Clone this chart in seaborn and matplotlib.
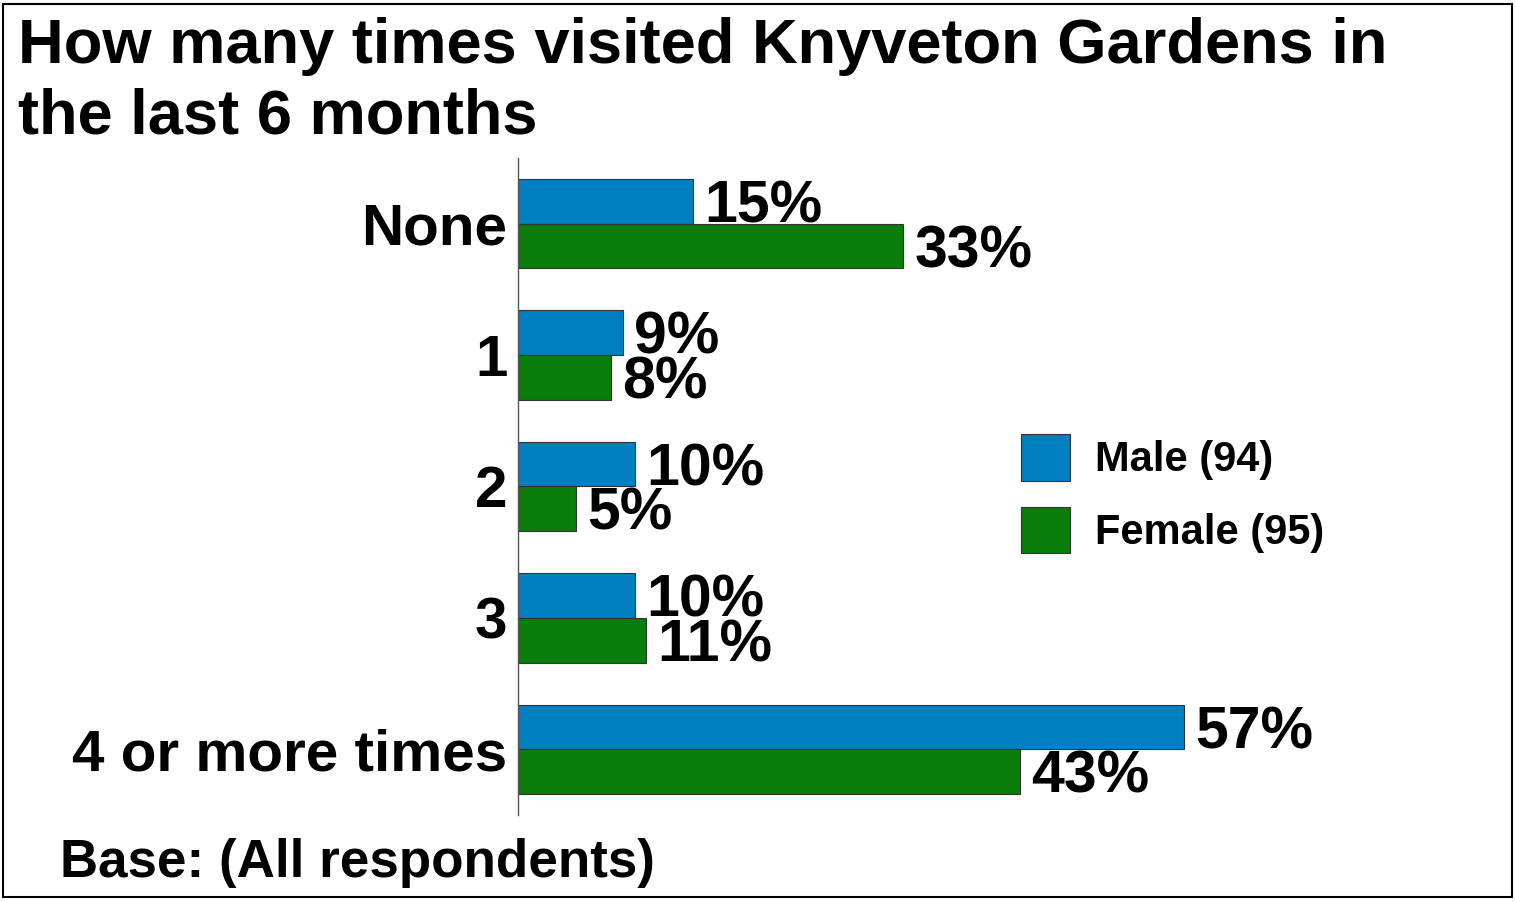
import seaborn as sns
import pandas as pd
import matplotlib.pyplot as plt
from matplotlib.patches import Rectangle

categories = ['None', '1', '2', '3', '4 or more times']
male = [15, 9, 10, 10, 57]
female = [33, 8, 5, 11, 43]
series_names = ['Male (94)', 'Female (95)']
colors = ['#0080C0', '#0A7D0A']

sns.set_theme(style='white')
plt.rcParams['font.family'] = ['Liberation Sans', 'DejaVu Sans']
plt.rcParams['font.weight'] = 'bold'
plt.rcParams['text.color'] = 'black'
plt.rcParams['ytick.color'] = 'black'
plt.rcParams['xtick.color'] = 'black'

data = pd.DataFrame({
    'category': categories * 2,
    'value': male + female,
    'group': [series_names[0]] * len(male) + [series_names[1]] * len(female),
})

fig = plt.figure(figsize=(15.15, 9.01), dpi=100)
ax = fig.add_axes([518 / 1515, 86 / 901, 995 / 1515, 657 / 901])
sns.barplot(data=data, y='category', x='value', hue='group', order=categories,
            hue_order=series_names, palette=colors, orient='h', width=0.68,
            edgecolor='#333333', linewidth=0.8, saturation=1, ax=ax)

# value labels, nudged down a little so the digits sit on the bar
for cont in ax.containers:
    labels = ax.bar_label(cont, fmt='{:.0f}%', padding=8, fontsize=42.5,
                          fontweight='bold', color='black')
    for t in labels:
        t.xyann = (t.xyann[0], -4)

ax.set_xlim(0, 995 / 11.68)
ax.set_ylim(4.5, -0.5)
ax.set_xlabel('')
ax.set_ylabel('')
ax.set_xticks([])
sns.despine(ax=ax, top=True, right=True, bottom=True)
ax.spines['left'].set_color('#555555')
ax.spines['left'].set_linewidth(1)
ax.tick_params(axis='y', length=0, pad=7.5, labelsize=42, labelcolor='black')
for t in ax.get_yticklabels():
    t.set_fontweight('bold')

ax.legend(loc='upper left', bbox_to_anchor=(1021 / 1515, 1 - 434 / 901),
          bbox_transform=fig.transFigure, frameon=False, fontsize=30,
          handlelength=1.17, handleheight=1.35, handletextpad=0.6,
          labelspacing=0.62, borderpad=0, borderaxespad=0)
for t in ax.get_legend().get_texts():
    t.set_fontweight('bold')
    t.set_color('black')

title_lines = ['How many times visited Knyveton Gardens in', 'the last 6 months']
for line, base in zip(title_lines, [63, 134]):
    fig.text(18 / 1515, 1 - base / 901, line, ha='left', va='baseline',
             fontsize=45.5, fontweight='bold')
fig.text(60 / 1515, 1 - 877 / 901, 'Base: (All respondents)', ha='left', va='baseline',
         fontsize=38.2, fontweight='bold')

fig.patches.append(Rectangle((3 / 1515, 4 / 901), 1509 / 1515, 893 / 901,
                             transform=fig.transFigure, fill=False,
                             edgecolor='black', linewidth=1.5))

fig.savefig('out.png', dpi=100)
